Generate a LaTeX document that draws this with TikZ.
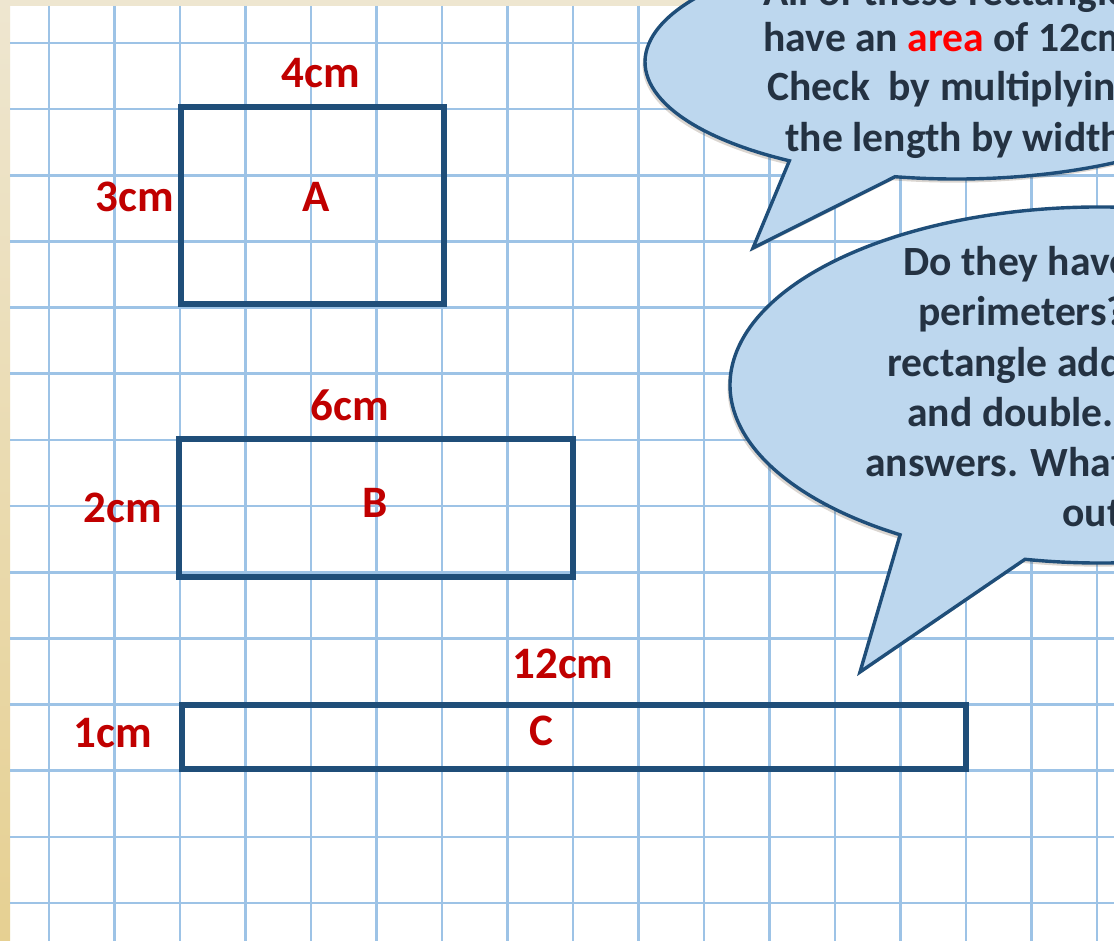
\documentclass[tikz,border=0pt]{standalone}
\usepackage{fontspec}
\setmainfont{Carlito}
\usetikzlibrary{shadows}
\definecolor{GridBlue}{RGB}{157,195,230}
\definecolor{EdgeBlue}{RGB}{31,78,121}
\definecolor{BubbleFill}{RGB}{189,215,238}
\definecolor{LabelRed}{RGB}{192,0,0}
\definecolor{AreaRed}{RGB}{255,0,0}
\definecolor{InkNavy}{RGB}{36,50,66}
\definecolor{PaperTop}{RGB}{238,230,208}
\definecolor{PaperGold}{RGB}{230,208,146}
\tikzset{
  gridline/.style={draw=GridBlue,line width=1.3pt},
  rectedge/.style={draw=EdgeBlue,line width=2.6pt},
  bubble/.style={draw=EdgeBlue,line width=1.7pt,fill=BubbleFill,
    drop shadow={shadow xshift=-1.2pt,shadow yshift=-1.8pt,opacity=0.2,fill=black!60!brown}},
  dim/.style={text=LabelRed,font=\fontsize{22.5}{26}\selectfont\bfseries,inner sep=0pt},
  say/.style={text=InkNavy,font=\fontsize{20.8}{25}\selectfont\bfseries,anchor=base west,inner sep=0pt},
}

\begin{document}
\begin{tikzpicture}[x=0.5pt,y=-0.5pt]
  \useasboundingbox (0,0) rectangle (1114,941);
  \clip (0,0) rectangle (1114,941);
  \fill[white] (0,0) rectangle (1114,941);
  \fill[PaperTop] (0,0) rectangle (1114,6);
  \shade[top color=PaperTop,bottom color=PaperGold] (0,0) rectangle (10,941);

  \foreach \i in {0,...,16}
    \draw[gridline] ({49+65.5*\i},6) -- ({49+65.5*\i},941);
  \foreach \j in {0,...,13}
    \draw[gridline] (10,{43+66.15*\j}) -- (1114,{43+66.15*\j});

  \draw[rectedge] (181,107) rectangle (444,304);
  \draw[rectedge] (179,439) rectangle (573,577);
  \draw[rectedge] (182,705) rectangle (966,769);

  \node[dim] (lenA) at (321,73) {4cm};
  \node[dim] (widA) at (135,197) {3cm};
  \node[dim] (nameA) at (316,197) {A};
  \node[dim] (lenB) at (350,405) {6cm};
  \node[dim] (widB) at (123,508) {2cm};
  \node[dim] (nameB) at (375,503) {B};
  \node[dim] (lenC) at (563,664) {12cm};
  \node[dim] (widC) at (113,733) {1cm};
  \node[dim] (nameC) at (541,731) {C};

  \coordinate (b1c) at (956,62);
  \coordinate (b1tip) at (753,248);
  \path[bubble] (b1c) ++(101.3:311 and 117)
    arc[start angle=101.3,end angle=-237.6,x radius=311,y radius=117] -- (b1tip) -- cycle;

  \coordinate (b2c) at (1100,385);
  \coordinate (b2tip) at (860,672);
  \path[bubble] (b2c) ++(101.7:370 and 178)
    arc[start angle=101.7,end angle=-237.3,x radius=370,y radius=178] -- (b2tip) -- cycle;

  \node[say] (b1l0) at (763,6) {All of these rectangles};
  \node[say] (b1l1) at (763,52) {have an \textcolor{AreaRed}{area} of 12cm};
  \node[say] (b1l2) at (767,101) {Check\ \ by multiplying};
  \node[say] (b1l3) at (785,152) {the length by width};

  \node[say] (b2l1) at (903,276) {Do they have};
  \node[say] (b2l2) at (918,326) {perimeters?};
  \node[say] (b2l3) at (887,376) {rectangle add};
  \node[say] (b2l4) at (907,426) {and double.};
  \node[say] (b2l5) at (865,476) {answers. What};
  \node[say] (b2l6) at (1062,526) {out};
\end{tikzpicture}
\end{document}
